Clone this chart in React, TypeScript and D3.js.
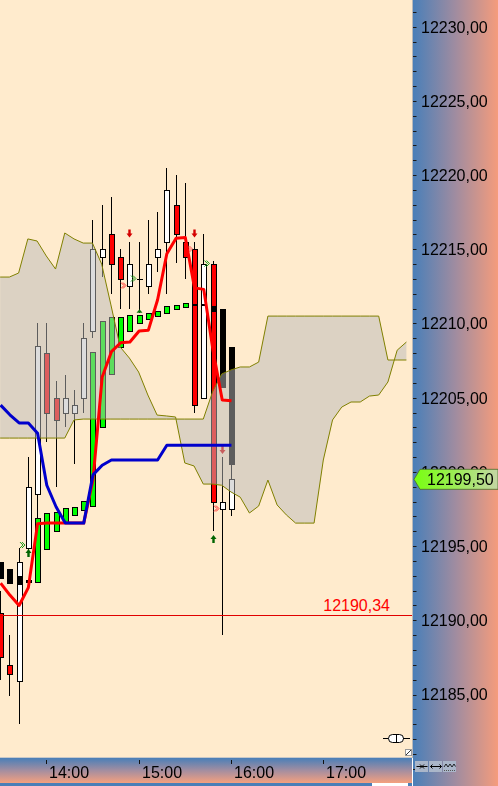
import React from 'react';
import * as d3 from 'd3';

// ---- data (6-minute candles starting 13:30) ----
const opens = [12190.5, 12187.0, 12185.9, 12194.9, 12198.5, 12208.0, 12205.0, 12204.0, 12204.0, 12205.0, 12209.5, 12214.5, 12216.0, 12214.5, 12212.5, 12213.0, 12212.5, 12214.5, 12215.5, 12218.0, 12215.5, 12215.0, 12205.0, 12214.0, 12197.5, 12197.5];
const highs = [12192.0, 12189.0, 12194.9, 12201.0, 12210.0, 12210.0, 12206.1, 12206.5, 12205.5, 12210.0, 12217.0, 12218.0, 12218.5, 12215.0, 12215.5, 12215.5, 12217.0, 12217.5, 12220.5, 12220.0, 12219.5, 12215.5, 12216.0, 12214.2, 12201.0, 12200.5];
const lows = [12186.0, 12184.9, 12183.0, 12194.7, 12196.8, 12202.0, 12199.0, 12203.0, 12200.5, 12204.0, 12209.0, 12213.1, 12212.0, 12211.0, 12211.0, 12210.7, 12212.0, 12213.5, 12212.0, 12214.1, 12213.0, 12204.0, 12204.9, 12196.0, 12189.0, 12197.0];
const closes = [12187.5, 12186.4, 12193.9, 12199.0, 12208.5, 12204.0, 12203.5, 12205.0, 12204.5, 12209.0, 12215.0, 12215.0, 12214.0, 12213.0, 12214.0, 12213.0, 12214.0, 12215.0, 12219.0, 12216.0, 12214.5, 12204.5, 12214.0, 12198.0, 12198.0, 12199.5];

const haOpen = [12193.9, 12193.45, 12193.0, 12192.7, 12192.6, 12194.8, 12196.0, 12196.6, 12197.1, 12197.4, 12197.7, 12203.0, 12206.6, 12208.4, 12209.5, 12210.0, 12210.3, 12210.5, 12210.7, 12211.0, 12211.1, 12211.25, 12211.25, 12211.2, 12211.0, 12208.4];
const haClose = [12192.85, 12192.5, 12192.45, 12192.6, 12196.9, 12197.2, 12197.3, 12197.6, 12197.65, 12198.05, 12208.1, 12210.2, 12210.45, 12210.45, 12210.6, 12210.6, 12210.7, 12210.85, 12211.2, 12211.25, 12211.4, 12211.25, 12211.25, 12210.85, 12205.7, 12200.5];

const tenkan = [12192.5, 12191.7, 12191.0, 12192.2, 12196.5, 12196.55, 12196.55, 12196.55, 12196.55, 12196.55, 12199.45, 12206.4, 12208.1, 12208.7, 12208.75, 12209.5, 12209.55, 12211.6, 12214.7, 12215.75, 12215.8, 12212.4, 12212.3, 12208.2, 12204.85, 12204.8];
const kijun = [12204.5, 12203.85, 12203.3, 12203.3, 12202.6, 12199.1, 12197.65, 12196.55, 12196.55, 12196.55, 12199.8, 12200.45, 12200.8, 12200.8, 12200.8, 12200.8, 12200.8, 12200.8, 12201.8, 12201.8, 12201.8, 12201.8, 12201.8, 12201.8, 12201.8, 12201.8];

const spanA = [12213.13, 12213.13, 12213.4, 12215.7, 12215.56, 12214.55, 12213.67, 12216.1, 12215.7, 12215.42, 12215.42, 12214.0, 12211.25, 12208.42, 12207.67, 12206.73, 12205.18, 12203.83, 12203.77, 12203.7, 12200.6, 12200.4, 12199.18, 12199.18, 12199.1, 12198.65, 12198.3, 12197.23, 12197.7, 12199.45, 12197.77, 12197.1, 12196.55, 12196.55, 12196.55, 12200.8, 12203.5, 12204.37, 12204.71, 12204.71, 12205.11, 12205.18, 12206.06, 12208.2, 12208.75];
const spanB = [12202.28, 12202.28, 12202.28, 12202.28, 12202.28, 12202.28, 12202.28, 12202.28, 12203.5, 12203.56, 12203.56, 12203.56, 12203.56, 12203.56, 12203.56, 12203.56, 12203.56, 12203.56, 12203.56, 12203.56, 12203.56, 12203.56, 12203.56, 12205.38, 12206.6, 12206.87, 12207.07, 12207.07, 12207.4, 12210.5, 12210.5, 12210.5, 12210.5, 12210.5, 12210.5, 12210.5, 12210.5, 12210.5, 12210.5, 12210.5, 12210.5, 12210.5, 12207.54, 12207.54, 12207.54];

const priceTicks = [12185, 12190, 12195, 12200, 12205, 12210, 12215, 12220, 12225, 12230];
const timeTicks = [14, 15, 16, 17];
const lastPrice = 12199.5;
const refLevel = 12190.34;

const downArrows = [{ k: 14, p: 12215.8 }, { k: 21, p: 12215.8 }, { k: 24, p: 12201.2 }];
const upArrows = [{ k: 3, p: 12194.8 }, { k: 23, p: 12195.75 }];
const chevrons = [
  { k: 2.42, p: 12195.07, c: '#1c9a1c' },
  { k: 13.36, p: 12212.56, c: '#ff2a2a' },
  { k: 14.44, p: 12213.03, c: '#1c9a1c' },
  { k: 20.56, p: 12215.02, c: '#ff5050' },
  { k: 22.4, p: 12214.04, c: '#1c9a1c' },
  { k: 23.43, p: 12197.53, c: '#ff2a2a' },
];
const triangles = [{ k: 15, p: 12210.9 }];

const FONT = 'Liberation Sans, Arial, sans-serif';

export default function App() {
  const day = (h: number, m: number) => new Date(2024, 0, 5, h, m);
  const t0 = day(13, 30);
  const tAt = (k: number) => new Date(t0.getTime() + k * 6 * 60000);
  const x = d3.scaleTime().domain([day(14, 0), day(17, 0)]).range([46.3, 323.3]);
  const y = d3.scaleLinear().domain([12185, 12230]).range([694.5, 26.7]);
  const fmt = (v: number) => d3.format('.2f')(v).replace('.', ',');
  const PR = 412;
  const PB = 757;

  const cloudArea = d3.area<number>()
    .x((_, i) => x(tAt(i)))
    .y0((_, i) => y(spanB[i]))
    .y1((_, i) => y(spanA[i]));
  const lineA = d3.line<number>().x((_, i) => x(tAt(i))).y((d) => y(d));
  const seriesLine = d3.line<number>().x((_, i) => x(tAt(i)) + 0.5).y((d) => y(d));

  const minorTicks = d3.range(12180, 12233, 1);

  const cxOf = (k: number) => Math.round(x(tAt(k))) + 1;

  return (
    <div style={{ position: 'fixed', left: 0, top: 0, width: 498, height: 786 }}>
      <svg width={498} height={786} style={{ display: 'block' }}>
        <defs>
          <linearGradient id="axisGrad" x1="0" x2="1" y1="0" y2="0">
            <stop offset="0" stopColor="#4a7fb8" />
            <stop offset="0.5" stopColor="#a08ca0" />
            <stop offset="1" stopColor="#f59c7c" />
          </linearGradient>
          <linearGradient id="stripGrad" x1="0" x2="0" y1="0" y2="1">
            <stop offset="0" stopColor="#4a7fb8" />
            <stop offset="0.5" stopColor="#a48ea0" />
            <stop offset="1" stopColor="#f5a07e" />
          </linearGradient>
          <linearGradient id="tagGrad" x1="0" x2="1" y1="0" y2="0">
            <stop offset="0" stopColor="#78ff10" />
            <stop offset="0.6" stopColor="#a4e866" />
            <stop offset="1" stopColor="#c4d4a4" />
          </linearGradient>
          <clipPath id="plotClip">
            <rect x={0} y={0} width={PR} height={PB} />
          </clipPath>
        </defs>

        {/* plot background */}
        <rect x={0} y={0} width={PR} height={PB} fill="#FFEBCD" />

        <g clipPath="url(#plotClip)">
          {/* candles */}
          {opens.map((o, k) => {
            const cx = cxOf(k);
            const c = closes[k];
            const yt = Math.round(y(Math.max(o, c)));
            const yb = Math.round(y(Math.min(o, c)));
            const up = c >= o;
            return (
              <g key={'c' + k}>
                <line x1={cx - 0.5} x2={cx - 0.5} y1={Math.round(y(highs[k]))} y2={Math.round(y(lows[k]))} stroke="#000" strokeWidth={1} />
                {yb - yt < 1 ? (
                  <line x1={cx - 3} x2={cx + 3} y1={yt + 0.5} y2={yt + 0.5} stroke="#000" />
                ) : (
                  <rect x={cx - 2.5} y={yt + 0.5} width={5} height={yb - yt} fill={up ? '#ffffff' : '#ff0000'} stroke="#000" strokeWidth={1} />
                )}
              </g>
            );
          })}

          {/* heikin-ashi style boxes */}
          {haOpen.map((o, k) => {
            const cx = cxOf(k);
            const c = haClose[k];
            let yt = Math.round(y(Math.max(o, c)));
            let yb = Math.round(y(Math.min(o, c)));
            const up = c > o;
            if (yb - yt < 2) {
              return <rect key={'h' + k} x={cx - 3} y={yt - 1} width={6} height={2} fill="#000" />;
            }
            return (
              <rect key={'h' + k} x={cx - 2.5} y={yt + 0.5} width={5} height={yb - yt} fill={up ? '#00ff00' : '#000000'} stroke="#000" strokeWidth={1} />
            );
          })}

          {/* markers */}
          {downArrows.map((a, i) => {
            const cx = cxOf(a.k) - 0.5;
            const ty = y(a.p);
            return (
              <path key={'da' + i} d={`M${cx - 1.2},${ty - 8} L${cx + 1.2},${ty - 8} L${cx + 1.2},${ty - 4} L${cx + 3},${ty - 4} L${cx},${ty} L${cx - 3},${ty - 4} L${cx - 1.2},${ty - 4} Z`} fill="#d40000" />
            );
          })}
          {upArrows.map((a, i) => {
            const cx = cxOf(a.k) - 0.5;
            const ty = y(a.p);
            return (
              <path key={'ua' + i} d={`M${cx},${ty} L${cx + 3},${ty + 4} L${cx + 1.2},${ty + 4} L${cx + 1.2},${ty + 8} L${cx - 1.2},${ty + 8} L${cx - 1.2},${ty + 4} L${cx - 3},${ty + 4} Z`} fill="#006400" />
            );
          })}
          {chevrons.map((m, i) => {
            const cx = x(tAt(m.k));
            const cy = y(m.p);
            return (
              <path key={'ch' + i} d={`M${cx - 2.5},${cy - 3} L${cx + 0.5},${cy} L${cx - 2.5},${cy + 3} M${cx - 0.5},${cy - 3} L${cx + 2.5},${cy} L${cx - 0.5},${cy + 3}`} fill="none" stroke={m.c} strokeWidth={1} />
            );
          })}
          {triangles.map((m, i) => {
            const cx = cxOf(m.k) - 0.5;
            const ty = y(m.p);
            return <path key={'tr' + i} d={`M${cx},${ty - 1} L${cx + 3},${ty + 2.5} L${cx - 3},${ty + 2.5} Z`} fill="#0a7a0a" />;
          })}

          {/* kumo cloud overlay */}
          <path d={cloudArea(spanA) || ''} fill="rgba(185,185,185,0.5)" stroke="none" />
          <path d={lineA(spanA) || ''} fill="none" stroke="#808000" strokeWidth={1} />
          <path d={lineA(spanB) || ''} fill="none" stroke="#808000" strokeWidth={1} />

          {/* conversion / base lines */}
          <path d={seriesLine(tenkan) || ''} fill="none" stroke="#ff0000" strokeWidth={3} strokeLinejoin="round" />
          <path d={seriesLine(kijun) || ''} fill="none" stroke="#0000cc" strokeWidth={3} strokeLinejoin="round" />

          {/* reference level */}
          <line x1={0} x2={PR} y1={Math.round(y(refLevel)) + 0.5} y2={Math.round(y(refLevel)) + 0.5} stroke="#e00000" strokeWidth={1} />
          <text x={390} y={y(refLevel) - 4} textAnchor="end" fontFamily={FONT} fontSize={16} fill="#ff0000">{fmt(refLevel)}</text>

          {/* small tool icons */}
          <line x1={383} x2={389} y1={738.5} y2={738.5} stroke="#000" />
          <rect x={388.5} y={734.5} width={15} height={8} rx={4} fill="#fff" stroke="#000" />
          <line x1={396.5} x2={396.5} y1={734.5} y2={742.5} stroke="#000" />
          <line x1={403} x2={410} y1={738.5} y2={738.5} stroke="#000" />
          <rect x={405.5} y={749.5} width={6} height={6} fill="#fff" stroke="#999" />
          <line x1={406} x2={411} y1={755} y2={750} stroke="#333" />
        </g>

        {/* right axis panel */}
        <rect x={413} y={0} width={85} height={786} fill="url(#axisGrad)" />
        <line x1={412.5} x2={412.5} y1={0} y2={758} stroke="#b8b8b8" />
        {minorTicks.map((v) => (
          <line key={'mt' + v} x1={413} x2={416.5} y1={Math.round(y(v)) + 0.5} y2={Math.round(y(v)) + 0.5} stroke="#1a1a1a" />
        ))}
        {priceTicks.map((v) => (
          <text key={'pt' + v} x={421} y={y(v) + 5.8} fontFamily={FONT} fontSize={16} fill="#000">{fmt(v)}</text>
        ))}

        {/* last price tag */}
        <path d={`M414,${y(lastPrice)} L420,${y(lastPrice) - 10} L498,${y(lastPrice) - 10} L498,${y(lastPrice) + 10} L420,${y(lastPrice) + 10} Z`} fill="url(#tagGrad)" stroke="#4a6a2a" strokeWidth={0.8} />
        <text x={427} y={y(lastPrice) + 6} fontFamily={FONT} fontSize={16} fill="#000">{fmt(lastPrice)}</text>

        {/* bottom time strip */}
        <rect x={0} y={758} width={PR} height={25} fill="url(#stripGrad)" />
        <line x1={0} x2={PR} y1={757.5} y2={757.5} stroke="#c8c8c8" />
        <rect x={0} y={783} width={PR} height={3} fill="#4a7fb8" />
        <rect x={372} y={783} width={36} height={3} fill="#ffffff" />
        {timeTicks.map((h) => {
          const tx = Math.round(x(day(h, 0))) + 0.5;
          return (
            <g key={'tt' + h}>
              <line x1={tx} x2={tx} y1={760} y2={764} stroke="#111" />
              <text x={tx + 2.5} y={777.7} fontFamily={FONT} fontSize={16} fill="#000">{d3.timeFormat('%H:%M')(day(h, 0))}</text>
            </g>
          );
        })}

        {/* buttons */}
        {[0, 1, 2].map((b) => (
          <rect key={'b' + b} x={415 + b * 14} y={761} width={13} height={11} fill="#aab6c9" />
        ))}
        <path d="M416.5,766.5 L427.5,766.5 M420,764.5 L422,766.5 L420,768.5 M424,764.5 L422,766.5 L424,768.5" fill="none" stroke="#000" strokeWidth={1} />
        <path d="M430.5,766.5 L441.5,766.5 M432.5,764.5 L430.5,766.5 L432.5,768.5 M439.5,764.5 L441.5,766.5 L439.5,768.5" fill="none" stroke="#000" strokeWidth={1} />
        <path d="M444,767 L446,764 L448,767 L450,764 L452,767 L454,764 L455.5,766.5" fill="none" stroke="#000" strokeWidth={0.8} />
        <line x1={444} x2={455.5} y1={770.5} y2={770.5} stroke="#555" strokeDasharray="1,1" />
      </svg>
    </div>
  );
}
